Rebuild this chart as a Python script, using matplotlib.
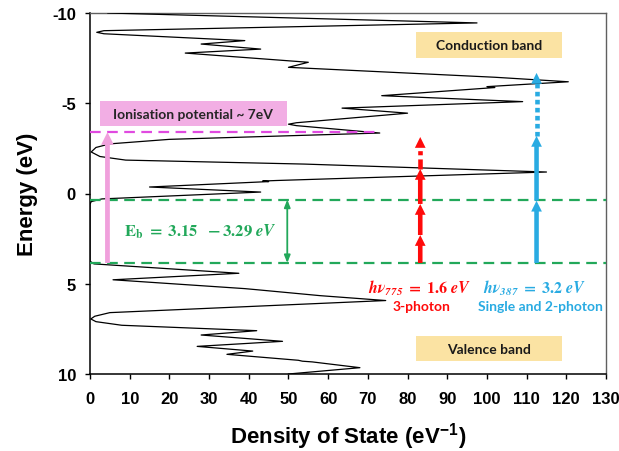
import matplotlib
matplotlib.use("Agg")
import matplotlib.pyplot as plt
from matplotlib.patches import Rectangle

# ---------------- data ----------------
energy = [-10.0, -9.45, -9.02, -8.93, -8.85, -8.47, -8.28, -8.0, -7.78, -7.27,
          -6.99, -6.44, -6.19, -5.96, -5.92, -5.87, -5.42, -5.09, -4.73, -4.45,
          -3.92, -3.84, -3.76, -3.35, -3.0, -2.75, -2.55, -2.3, -2.05, -1.85,
          -1.63, -1.19, -0.72, -0.69, -0.66, -0.36, -0.08, 0.3, 0.45, 0.6,
          3.75, 3.9, 4.42, 4.78, 5.27, 5.33, 5.66, 5.93, 6.6, 6.8,
          6.95, 7.1, 7.3, 7.6, 7.84, 8.19, 8.47, 8.73, 8.91, 9.24,
          9.29, 9.33, 9.65, 10.0]
dos = [4.5, 97.5, 3.5, 1.7, 3.5, 39, 28, 43, 24, 55,
       50, 102, 120.5, 103, 100, 102, 73.5, 109, 63.5, 80,
       52, 50, 52, 73, 20, 5, 1.5, 0.3, 2.5, 9,
       54, 115, 47, 43.5, 45, 15, 43, 3, 0.3, 0,
       0, 1, 37.5, 5.8, 39, 42, 58, 74.5, 5, 1.2,
       0.2, 1.5, 8, 42, 28, 48.5, 27, 41, 34.5, 52.5,
       53.5, 56, 68, 50]

x_ticks = [0, 10, 20, 30, 40, 50, 60, 70, 80, 90, 100, 110, 120, 130]
y_ticks = [-10, -5, 0, 5, 10]
y_ticklabels = ["-10", "-5", "0", "5", "10"]

vbm_level = 3.85        # lower green dashed line
cbm_level = 0.34        # upper green dashed line
ion_level = -3.4        # ionisation dashed line

red_x = 83.2
red_steps = [3.85, 2.30, 0.58, -1.36]   # solid arrow tips (from base)
red_dotted_tip = -3.13
blue_x = 112.5
blue_steps = [3.85, 0.40, -3.19]
blue_dotted_tip = -6.68
pink_x = 4.4
gap_arrow_x = 49.7

# ---------------- colours ----------------
GREEN = "#22A85A"
RED = "#FF0A0A"
BLUE = "#29ABE2"
PINK = "#F0A0DC"
MAGENTA = "#E04AE0"
YELLOW = "#FBE3A3"
PINKBOX = "#F2AEE4"

plt.rcParams["mathtext.fontset"] = "stix"

fig = plt.figure(figsize=(6.19, 4.52), dpi=100)
ax = fig.add_axes([90 / 619, 77 / 452, 516 / 619, 361 / 452])

ax.plot(dos, energy, color="black", lw=0.9, zorder=3)

ax.set_xlim(0, 130)
ax.set_ylim(10, -10)
ax.set_xticks(x_ticks)
ax.set_yticks(y_ticks)
ax.set_yticklabels(y_ticklabels)
for lbl in ax.get_xticklabels() + ax.get_yticklabels():
    lbl.set_fontfamily("Liberation Sans")
    lbl.set_fontweight("bold")
    lbl.set_fontsize(12)
ax.tick_params(direction="out", length=3.6, width=1)
ax.tick_params(axis="x", pad=9)
ax.tick_params(axis="y", pad=6.5)

for s in ["left", "bottom"]:
    ax.spines[s].set_color("black")
    ax.spines[s].set_linewidth(1.1)
for s in ["top", "right"]:
    ax.spines[s].set_color("#606060")
    ax.spines[s].set_linewidth(1.0)

ax.set_xlabel(r"Density of State (eV$^{\mathregular{-1}}$)", fontfamily="Liberation Sans",
              fontweight="bold", fontsize=16, labelpad=10)
ax.set_ylabel("Energy (eV)", fontfamily="Liberation Sans", fontweight="bold",
              fontsize=16, labelpad=10)

# dashed level lines
dash = (0, (4.8, 2.9))
ax.plot([0, 130], [cbm_level, cbm_level], color=GREEN, lw=1.6, ls=dash, zorder=4)
ax.plot([0, 130], [vbm_level, vbm_level], color=GREEN, lw=1.6, ls=dash, zorder=4)
ax.plot([0, 73], [ion_level, ion_level], color=MAGENTA, lw=1.6, ls=dash, zorder=4)

# arrows (vertical, so width in x-units and head_length in eV)
def solid_arrow(x, y0, y1, c):
    ax.arrow(x, y0, 0, y1 - y0, width=1.15, head_width=2.7, head_length=0.6,
             length_includes_head=True, color=c, lw=0, zorder=5)

def dotted_arrow(x, y0, y1, c, ls):
    ax.plot([x, x], [y0, y1 + 0.55], color=c, lw=3.3, ls=ls, zorder=5,
            solid_capstyle="butt", dash_capstyle="butt")
    ax.arrow(x, y1 + 0.6, 0, -0.6, width=1.15, head_width=2.7, head_length=0.6,
             length_includes_head=True, color=c, lw=0, zorder=5)

for a, b in zip(red_steps[:-1], red_steps[1:]):
    solid_arrow(red_x, a, b, RED)
dotted_arrow(red_x, red_steps[-1], red_dotted_tip, RED, (0, (2.2, 0.9, 0.9, 0.9)))
for a, b in zip(blue_steps[:-1], blue_steps[1:]):
    solid_arrow(blue_x, a, b, BLUE)
dotted_arrow(blue_x, blue_steps[-1], blue_dotted_tip, BLUE, (0, (1.0, 0.75)))

ax.arrow(pink_x, vbm_level, 0, ion_level - vbm_level, width=1.2, head_width=3.2,
         head_length=0.7, length_includes_head=True, color=PINK, lw=0, zorder=5)

ax.annotate("", xy=(gap_arrow_x, cbm_level), xytext=(gap_arrow_x, vbm_level),
            arrowprops=dict(arrowstyle="<|-|>,head_length=0.45,head_width=0.18",
                            color=GREEN, lw=1.3, shrinkA=0, shrinkB=0), zorder=5)

# boxes
ax.add_patch(Rectangle((2.5, -5.12), 47.1, 1.38, facecolor=PINKBOX, edgecolor="none", zorder=2))
ax.text(26.0, -4.43, "Ionisation potential ~ 7eV", ha="center", va="center",
        fontfamily="Lato", fontweight="bold", fontsize=10, color="#262626", zorder=6)
ax.add_patch(Rectangle((82.1, -8.95), 36.8, 1.44, facecolor=YELLOW, edgecolor="none", zorder=2))
ax.text(100.5, -8.23, "Conduction band", ha="center", va="center",
        fontfamily="Lato", fontweight="bold", fontsize=10, color="#1a1a1a", zorder=6)
ax.add_patch(Rectangle((82.1, 7.9), 36.8, 1.38, facecolor=YELLOW, edgecolor="none", zorder=2))
ax.text(100.5, 8.6, "Valence band", ha="center", va="center",
        fontfamily="Lato", fontweight="bold", fontsize=10, color="#1a1a1a", zorder=6)

ax.text(27.7, 2.06, r"$\mathbf{E_b\ =\ 3.15\ \ -3.29}\ \mathbfit{eV}$", ha="center",
        va="center", fontsize=12, color=GREEN, zorder=6)
ax.text(83.0, 5.2, r"$\mathbfit{h\nu_{775}}\ \mathbf{=\ 1.6}\ \mathbfit{eV}$", ha="center",
        va="center", fontsize=11.5, color=RED, zorder=6)
ax.text(112.0, 5.2, r"$\mathbfit{h\nu_{387}}\ \mathbf{=\ 3.2}\ \mathbfit{eV}$", ha="center",
        va="center", fontsize=11.5, color=BLUE, zorder=6)
ax.text(83.4, 6.22, "3-photon", ha="center", va="center", fontfamily="Lato",
        fontweight="bold", fontsize=10, color=RED, zorder=6)
ax.text(113.4, 6.22, "Single and 2-photon", ha="center", va="center", fontfamily="Lato",
        fontweight="bold", fontsize=10, color=BLUE, zorder=6)

fig.savefig("out.png", dpi=100)
